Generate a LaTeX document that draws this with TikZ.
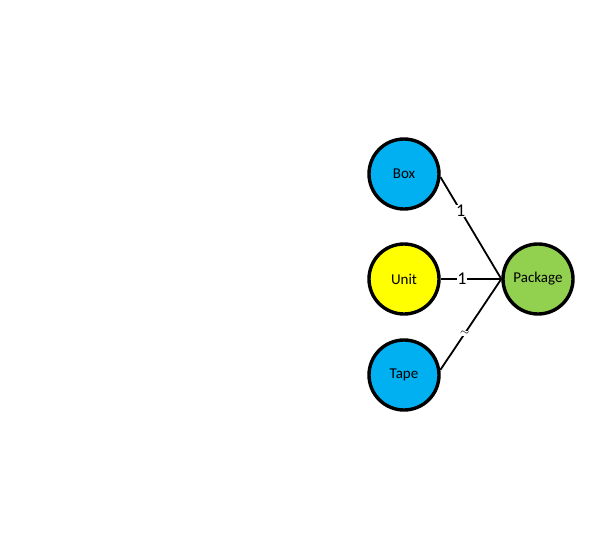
\documentclass[tikz,border=0pt]{standalone}
\usepackage{fontspec}
\setmainfont{Carlito}
\usetikzlibrary{positioning}

\definecolor{itemblue}{HTML}{00B0F0}
\definecolor{itemyellow}{HTML}{FFFF00}
\definecolor{itemgreen}{HTML}{92D050}

\begin{document}
\begin{tikzpicture}[x=1pt,y=-1pt]
    % `part' is used for the circles, `link' for the lines to the package.
    % `mult' is used for the multiplicity labels.
    \tikzstyle{part} = [draw,circle,line width=3.4pt,minimum size=70pt,inner sep=0pt,font=\fontsize{15}{17}\selectfont]
    \tikzstyle{link} = [line width=1.8pt]
    \tikzstyle{mult} = [fill=white,inner sep=0.3pt,font=\fontsize{18}{20}\selectfont]
    %
    \useasboundingbox (0,0) rectangle (595,536);
    \node[part,fill=itemblue] (box) at (404,174) {Box};
    \node[part,fill=itemyellow] (unit) at (404,279) {Unit};
    \node[part,fill=itemblue] (tape) at (404,375) {Tape};
    \node[part,fill=itemgreen] (package) at (538,279) {Package};
    % Draw lines.
    \draw[link] (box.-5) -- node[mult,pos=0.33] (m1) {1} (package.west);
    \draw[link] (unit) -- node[mult,pos=0.35] (m2) {1} (package.west);
    \draw[link] (tape.8) -- node[mult,pos=0.40,font=\fontsize{13}{15}\selectfont] (m3) {$\sim$} (package.west);
\end{tikzpicture}
\end{document}
